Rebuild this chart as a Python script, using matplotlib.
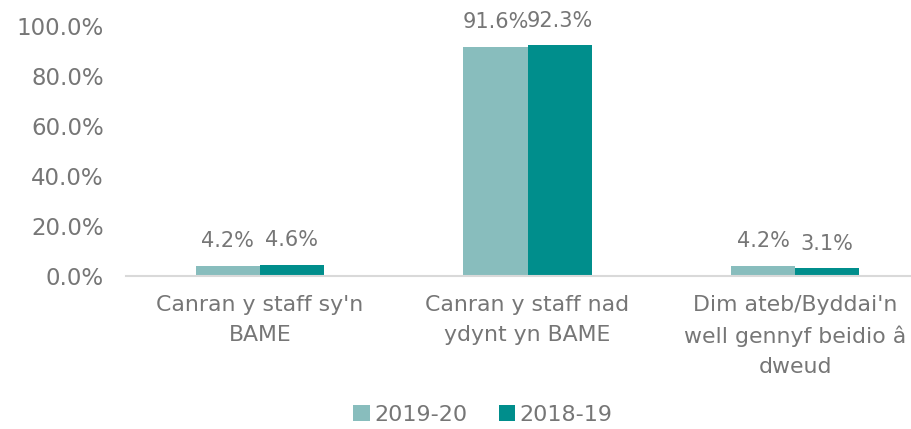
import matplotlib
matplotlib.use("Agg")
import matplotlib.pyplot as plt
import numpy as np

categories = ["Canran y staff sy'n\nBAME",
              "Canran y staff nad\nydynt yn BAME",
              "Dim ateb/Byddai'n\nwell gennyf beidio â\ndweud"]
series_names = ["2019-20", "2018-19"]
values_2019_20 = [4.2, 91.6, 4.2]
values_2018_19 = [4.6, 92.3, 3.1]
yticks = [0, 20, 40, 60, 80, 100]

colors = ["#88BDBD", "#008E8C"]
text_color = "#767676"

plt.rcParams['font.family'] = ['DejaVu Sans']

W, H = 911, 429
fig = plt.figure(figsize=(W/100, H/100), dpi=100)
left_px, right_px = 126, 929
top_px, bottom_px = 26, 276
ax = fig.add_axes([left_px/W, 1 - bottom_px/H, (right_px-left_px)/W, (bottom_px-top_px)/H])

x = np.arange(len(categories))
bw = 0.24
b1 = ax.bar(x - bw/2, values_2019_20, bw, color=colors[0], label=series_names[0])
b2 = ax.bar(x + bw/2, values_2018_19, bw, color=colors[1], label=series_names[1])

for bars, vals in ((b1, values_2019_20), (b2, values_2018_19)):
    for r, v in zip(bars, vals):
        ax.annotate(f"{v:.1f}%", (r.get_x() + r.get_width()/2, v),
                    xytext=(0, 10.5), textcoords="offset points",
                    ha="center", va="bottom", fontsize=15, color=text_color)

ax.set_xlim(-0.5, 2.5)
ax.set_ylim(0, 100)
ax.set_yticks(yticks)
ax.set_yticklabels([f"{t:.1f}%" for t in yticks], fontsize=16.5, color=text_color)
ax.set_xticks(x)
ax.set_xticklabels(categories, fontsize=15.8, color=text_color, linespacing=1.6)
ax.tick_params(axis='both', length=0)
ax.tick_params(axis='x', pad=14)
ax.tick_params(axis='y', pad=16)
for s in ["top", "right", "left"]:
    ax.spines[s].set_visible(False)
ax.spines["bottom"].set_color("#D9D9D9")
ax.spines["bottom"].set_linewidth(1.5)
ax.set_facecolor("none")

leg = fig.legend(handles=[b1, b2], labels=series_names, loc="center",
                 bbox_to_anchor=(483/W, 1 - 415/H), ncol=2, frameon=False,
                 fontsize=16, handlelength=0.75, handleheight=0.75,
                 handletextpad=0.2, columnspacing=1.4)
for t in leg.get_texts():
    t.set_color(text_color)

fig.savefig("out.png", dpi=100)
